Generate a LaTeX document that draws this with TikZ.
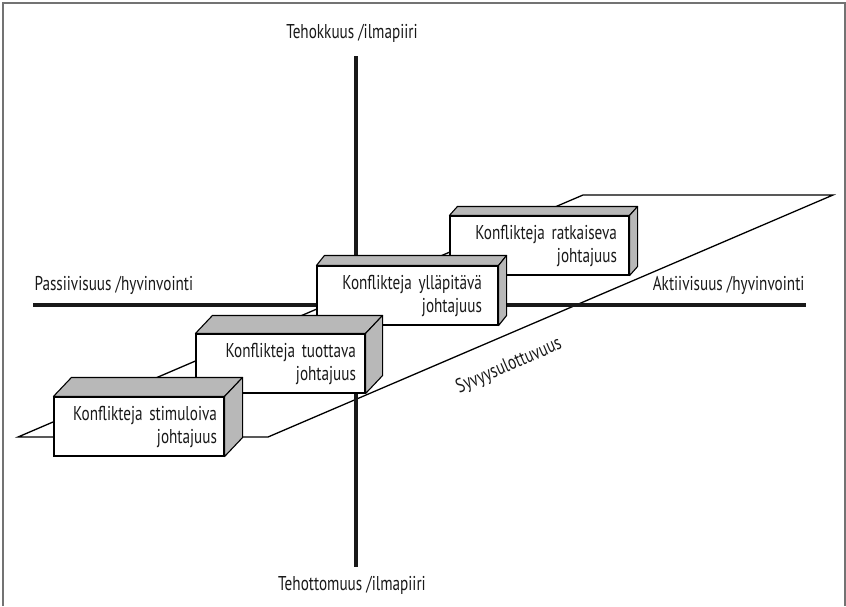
\documentclass[tikz,border=0pt]{standalone}
\usepackage{fontspec}
\setmainfont{PT Sans}[FakeStretch=0.76]
\usetikzlibrary{calc}
\begin{document}
\begin{tikzpicture}[x=1pt,y=-1pt,
  every node/.style={font=\fontsize{20}{23}\selectfont, text=black!90},
  axis/.style={line width=4.6pt, black!90},
  plane/.style={line width=1.3pt, black},
  front/.style={draw=black, line width=1.1pt, fill=white, minimum height=59pt, align=right, inner ysep=0pt},
  face/.style={draw=black, line width=1.1pt, fill=black!28, line join=round}
]
\useasboundingbox (0,0) rectangle (846,606);
% frame
\draw[black!55, line width=1.5pt] (3,606) -- (3,3) -- (845,3) -- (845,606);

% depth plane (parallelogram)
\coordinate (p1) at (18,437);
\coordinate (p2) at (268,437);
\coordinate (p3) at (833,195);
\coordinate (p4) at (583,195);
\draw[plane] (p1) -- (p2) -- (p3) -- (p4) -- cycle;

% axes
\coordinate (vt) at (356,56);
\coordinate (vb) at (356,567);
\coordinate (hl) at (33,305);
\coordinate (hr) at (806,305);
\draw[axis] (vt) -- (vb);
\draw[axis] (hl) -- (hr);

% axis labels
\node (top) at (352,33) {Tehokkuus /ilmapiiri};
\node (bot) at (352,585) {Tehottomuus /ilmapiiri};
\node[anchor=west] (left) at (31,285) {Passiivisuus /hyvinvointi};
\node[anchor=east] (right) at (808,285) {Aktiivisuus /hyvinvointi};
\node[rotate=23.5] (depth) at (509,366) {Syvyysulottuvuus};

% 3D boxes, back to front
% box 4
\node[front, text width=155pt, inner xsep=12pt] (b4) at (539.5,245.5) {Konflikteja ratkaiseva\\johtajuus};
\draw[face] (b4.north west) -- ++(8,-9) -- ($(b4.north east)+(8,-9)$) -- (b4.north east) -- cycle;
\draw[face] (b4.north east) -- ++(8,-9) -- ($(b4.south east)+(8,-9)$) -- (b4.south east) -- cycle;
% box 3
\node[front, text width=149pt, inner xsep=16pt] (b3) at (407.5,295.5) {Konflikteja ylläpitävä\\johtajuus};
\draw[face] (b3.north west) -- ++(8,-10) -- ($(b3.north east)+(8,-10)$) -- (b3.north east) -- cycle;
\draw[face] (b3.north east) -- ++(8,-10) -- ($(b3.south east)+(8,-10)$) -- (b3.south east) -- cycle;
% box 2
\node[front, text width=151pt, inner xsep=9pt] (b2) at (280.5,363.5) {Konflikteja tuottava\\johtajuus};
\draw[face] (b2.north west) -- ++(17,-18) -- ($(b2.north east)+(17,-18)$) -- (b2.north east) -- cycle;
\draw[face] (b2.north east) -- ++(17,-18) -- ($(b2.south east)+(17,-18)$) -- (b2.south east) -- cycle;
% box 1
\node[front, text width=156pt, inner xsep=7pt] (b1) at (139,426.5) {Konflikteja stimuloiva\\johtajuus};
\draw[face] (b1.north west) -- ++(18,-19) -- ($(b1.north east)+(18,-19)$) -- (b1.north east) -- cycle;
\draw[face] (b1.north east) -- ++(18,-19) -- ($(b1.south east)+(18,-19)$) -- (b1.south east) -- cycle;
\end{tikzpicture}
\end{document}
